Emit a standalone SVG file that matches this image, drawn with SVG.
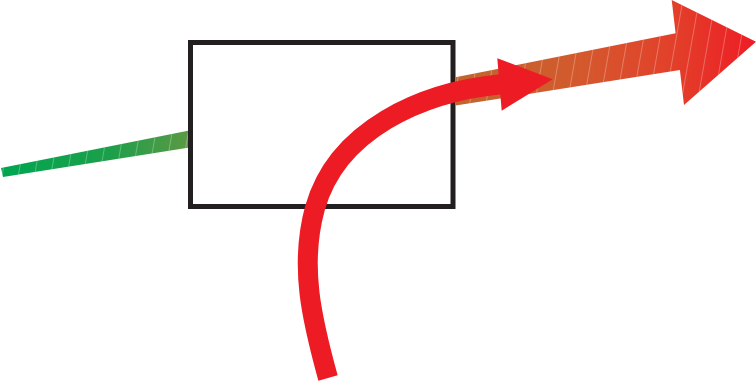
<svg xmlns="http://www.w3.org/2000/svg" width="756" height="382" viewBox="0 0 756 382">
  <defs>
    <linearGradient id="flow" gradientUnits="userSpaceOnUse" x1="0" y1="0" x2="756" y2="0">
      <stop offset="0" stop-color="#00a651"/>
      <stop offset="0.145" stop-color="#1c9f4a"/>
      <stop offset="0.249" stop-color="#5b9944"/>
      <stop offset="0.60" stop-color="#bf662f"/>
      <stop offset="0.767" stop-color="#d4592d"/>
      <stop offset="0.89" stop-color="#e2402a"/>
      <stop offset="1" stop-color="#ee1c25"/>
    </linearGradient>
    <pattern id="stripes" width="16" height="200" patternUnits="userSpaceOnUse" patternTransform="rotate(10)">
      <line x1="0.5" y1="0" x2="0.5" y2="200" stroke="#ffffff" stroke-opacity="0.35" stroke-width="0.8"/>
    </pattern>
  </defs>
  <style>
    .node { fill: #ffffff; stroke: #231f20; stroke-width: 5; }
    .curve { fill: none; stroke: #ed1c24; stroke-width: 20; stroke-linecap: butt; }
    .head { fill: #ed1c24; }
  </style>
  <g id="box">
    <rect class="node" x="190.5" y="42.5" width="262.5" height="164"/>
  </g>
  <g id="connectors">
    <g id="flow-arrow">
      <path fill="url(#flow)" d="M1,168 L188,130.7 L188,147.8 L3,177 Z M455.5,77.3 L675.6,33.3 L671.7,0 L756,41.7 L684,105 L679.9,70 L455.5,105.5 Z"/>
      <path fill="url(#stripes)" d="M1,168 L188,130.7 L188,147.8 L3,177 Z M455.5,77.3 L675.6,33.3 L671.7,0 L756,41.7 L684,105 L679.9,70 L455.5,105.5 Z"/>
    </g>
    <g id="curved-arrow">
      <path class="curve" d="M328,378 C312,320 299,266 315,208 C337,130 421,92 501,84.3"/>
      <polygon class="head" points="497.3,58.3 552.7,79.3 501.7,110.7"/>
    </g>
  </g>
</svg>
